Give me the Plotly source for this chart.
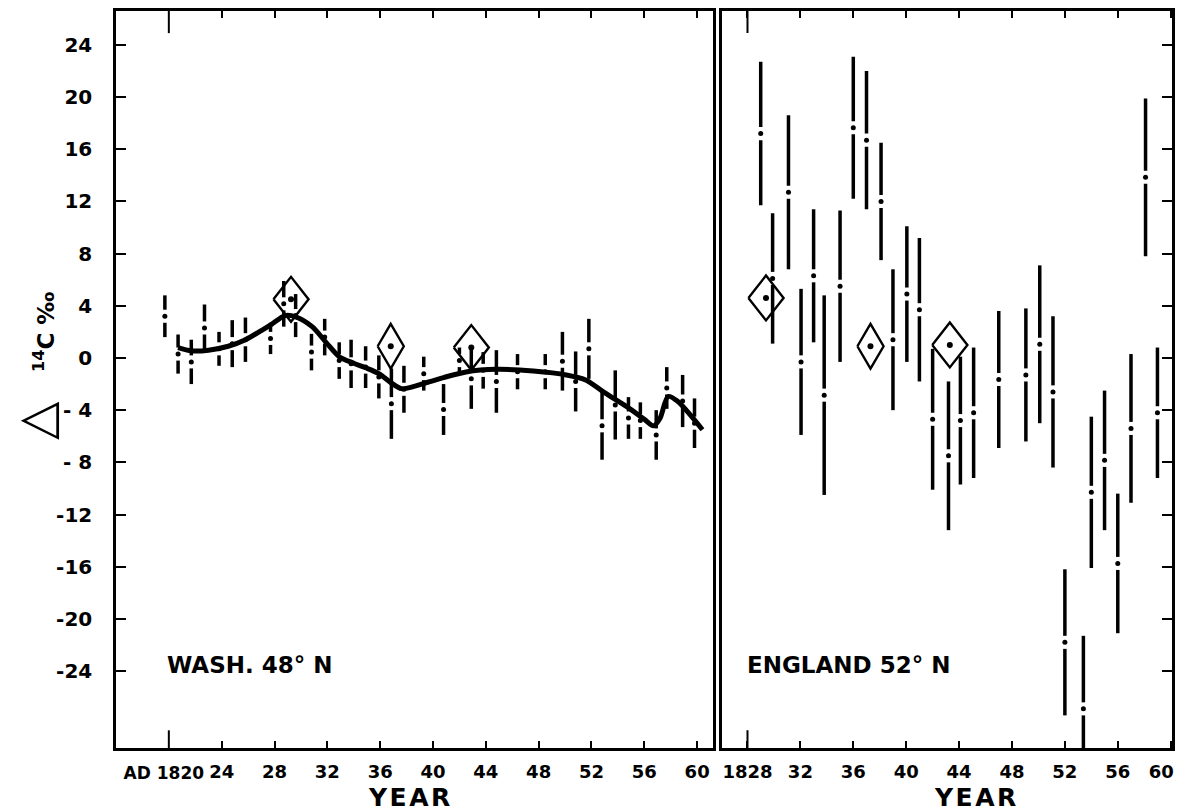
import plotly.graph_objects as go

# ---------------- data ----------------
# Washington 48N: individual measurements (year, delta14C centre, half error)
wash_year = [1819.7, 1820.7, 1821.7, 1822.7, 1823.8, 1824.8, 1825.8, 1827.7, 1828.7, 1829.6,
             1830.8, 1831.8, 1832.9, 1833.8, 1834.9, 1835.9, 1836.85, 1837.8, 1839.3, 1840.8,
             1842.0, 1842.9, 1843.8, 1844.8, 1846.4, 1848.5, 1849.8, 1850.8, 1851.8, 1852.8,
             1853.8, 1854.8, 1855.7, 1856.9, 1857.7, 1858.9, 1859.8]
wash_d14c = [3.2, 0.3, -0.3, 2.3, 0.7, 1.1, 1.4, 1.5, 4.15, 3.25,
             0.45, 1.6, -0.2, -0.45, -0.7, -1.45, -3.5, -2.4, -1.2, -3.95,
             -0.2, -1.6, -0.95, -1.8, -1.05, -1.05, -0.25, -1.8, 0.7, -5.2,
             -3.6, -4.6, -4.8, -5.9, -2.3, -3.3, -5.0]
wash_err = [1.6, 1.5, 1.7, 1.8, 1.3, 1.8, 1.7, 1.2, 1.75, 1.65,
            1.4, 1.4, 1.4, 1.85, 1.6, 1.65, 2.7, 1.8, 1.3, 1.95,
            1.0, 2.3, 1.4, 2.4, 1.35, 1.35, 2.25, 2.3, 2.3, 2.6,
            2.65, 1.6, 1.4, 1.9, 1.6, 2.0, 1.9]

# Washington smooth curve
wash_fit_year = [1820.7, 1821.7, 1823.0, 1824.5, 1825.8, 1827.0, 1827.8, 1828.8, 1829.6, 1830.85,
                 1831.9, 1832.9, 1834.0, 1834.9, 1835.9, 1836.9, 1837.6, 1838.5, 1839.3, 1840.8,
                 1842.5, 1844.8, 1847.6, 1850.1, 1851.6, 1852.9, 1854.7, 1856.0, 1856.7, 1857.2,
                 1857.8, 1858.5, 1860.4]
wash_fit_d14c = [0.8, 0.55, 0.6, 0.9, 1.4, 2.1, 2.6, 3.25, 3.15, 2.4,
                 1.2, 0.1, -0.4, -0.75, -1.2, -1.95, -2.35, -2.2, -1.95, -1.5,
                 -1.07, -0.87, -1.0, -1.3, -1.7, -2.6, -3.75, -4.7, -5.2, -4.6,
                 -2.95, -3.3, -5.5]

# Washington diamonds (year, value, half time-span)
wash_dia_year = [1829.25, 1836.8, 1842.9]
wash_dia_d14c = [4.5, 0.9, 0.8]
wash_dia_span = [1.33, 0.99, 1.33]

# England 52N
eng_year = [1829.0, 1829.9, 1831.1, 1832.05, 1833.0, 1833.8, 1835.0, 1836.0, 1837.0, 1838.1,
            1839.0, 1840.05, 1841.0, 1842.0, 1843.2, 1844.1, 1845.1, 1847.0, 1849.05, 1850.1,
            1851.1, 1852.0, 1853.4, 1854.0, 1855.0, 1856.0, 1857.0, 1858.1, 1859.0]
eng_d14c = [17.2, 6.1, 12.7, -0.3, 6.3, -2.85, 5.5, 17.65, 16.7, 12.0,
            1.4, 4.9, 3.7, -4.7, -7.5, -4.8, -4.2, -1.65, -1.3, 1.05,
            -2.6, -21.8, -26.9, -10.3, -7.85, -15.75, -5.4, 13.85, -4.2]
eng_err = [5.5, 5.0, 5.9, 5.6, 5.1, 7.65, 5.8, 5.45, 5.3, 4.5,
           5.4, 5.2, 5.5, 5.4, 5.7, 4.9, 5.0, 5.25, 5.1, 6.05,
           5.8, 5.6, 5.6, 5.8, 5.35, 5.35, 5.7, 6.05, 5.0]

eng_dia_year = [1829.4, 1837.3, 1843.3]
eng_dia_d14c = [4.6, 0.9, 1.0]
eng_dia_span = [1.33, 0.99, 1.33]

# axes
y_ticks = [-24, -20, -16, -12, -8, -4, 0, 4, 8, 12, 16, 20, 24]
y_ticktext = ["-24", "-20", "-16", "-12", "- 8", "- 4", "0", "4", "8", "12", "16", "20", "24"]
wash_xticks = [1820, 1824, 1828, 1832, 1836, 1840, 1844, 1848, 1852, 1856, 1860]
wash_xtext = ["AD 1820", "24", "28", "32", "36", "40", "44", "48", "52", "56", "60"]
eng_xticks = [1828, 1832, 1836, 1840, 1844, 1848, 1852, 1856, 1860]
eng_xtext = ["1828", "32", "36", "40", "44", "48", "52", "56", "60\u00a0\u00a0\u00a0"]

# ---------------- styling / layout constants ----------------
GAP = 0.5            # gap around the centre dot (per mil)
DIA_HALF_H = 1.72    # diamond half height (per mil)
INK = "black"
FONT = "DejaVu Sans"
W, H = 1199, 812
OFF = 8              # page body offset of the figure
ML, MR, MT, MB = 108, 35, 3, 72
PW = W - ML - MR
PH = H - MT - MB


def px_x(p):
    return (p - OFF - ML) / PW


def px_y(p):
    return 1 - (p - OFF - MT) / PH


def bar_paths(xs, cs, hs):
    X, Y = [], []
    for x, c, h in zip(xs, cs, hs):
        X += [x, x, None, x, x, None]
        Y += [c + h, c + GAP, None, c - GAP, c - h, None]
    return X, Y


def diamond_paths(xs, cs, ws):
    X, Y = [], []
    for x, c, w in zip(xs, cs, ws):
        X += [x - w, x, x + w, x, x - w, None]
        Y += [c, c + DIA_HALF_H, c, c - DIA_HALF_H, c, None]
    return X, Y


fig = go.Figure()

# --- Washington panel ---
bx, by = bar_paths(wash_year, wash_d14c, wash_err)
fig.add_trace(go.Scatter(x=bx, y=by, mode="lines", line=dict(color=INK, width=3.5),
                         xaxis="x", yaxis="y", hoverinfo="skip"))
fig.add_trace(go.Scatter(x=wash_year, y=wash_d14c, mode="markers",
                         marker=dict(color=INK, size=5), xaxis="x", yaxis="y"))
fig.add_trace(go.Scatter(x=wash_fit_year, y=wash_fit_d14c, mode="lines",
                         line=dict(color=INK, width=5, shape="spline", smoothing=0.8),
                         xaxis="x", yaxis="y"))
dx, dy = diamond_paths(wash_dia_year, wash_dia_d14c, wash_dia_span)
fig.add_trace(go.Scatter(x=dx, y=dy, mode="lines", line=dict(color=INK, width=2.4),
                         xaxis="x", yaxis="y"))
fig.add_trace(go.Scatter(x=wash_dia_year, y=wash_dia_d14c, mode="markers",
                         marker=dict(color=INK, size=6), xaxis="x", yaxis="y"))

# --- England panel ---
bx, by = bar_paths(eng_year, eng_d14c, eng_err)
fig.add_trace(go.Scatter(x=bx, y=by, mode="lines", line=dict(color=INK, width=3.5),
                         xaxis="x2", yaxis="y2", hoverinfo="skip"))
fig.add_trace(go.Scatter(x=eng_year, y=eng_d14c, mode="markers",
                         marker=dict(color=INK, size=5), xaxis="x2", yaxis="y2",
                         cliponaxis=True))
dx, dy = diamond_paths(eng_dia_year, eng_dia_d14c, eng_dia_span)
fig.add_trace(go.Scatter(x=dx, y=dy, mode="lines", line=dict(color=INK, width=2.4),
                         xaxis="x2", yaxis="y2"))
fig.add_trace(go.Scatter(x=eng_dia_year, y=eng_dia_d14c, mode="markers",
                         marker=dict(color=INK, size=6), xaxis="x2", yaxis="y2"))

xtickfont = dict(family=FONT, size=18, color=INK, weight="bold")
ytickfont = dict(family=FONT, size=20, color=INK, weight="bold")
common_x = dict(showgrid=False, zeroline=False, showline=True, linecolor=INK, linewidth=2.5,
                ticks="inside", ticklen=7, tickwidth=2, tickcolor=INK, mirror="ticks",
                tickmode="array", tickfont=xtickfont, ticklabelstandoff=6, tickangle=0,
                automargin=False)
common_y = dict(showgrid=False, zeroline=False, showline=True, linecolor=INK, linewidth=2.5,
                ticks="inside", ticklen=10, tickwidth=2, tickcolor=INK, mirror=True,
                tickmode="array", tickvals=y_ticks, ticktext=y_ticktext,
                range=[-29.9, 26.6], domain=[0, 1], tickfont=ytickfont, automargin=False)

fig.update_layout(
    width=W, height=H, autosize=False,
    margin=dict(l=ML, r=MR, t=MT, b=MB, pad=0, autoexpand=False),
    paper_bgcolor="white", plot_bgcolor="white",
    showlegend=False,
    # main Washington axis: all ticks except the first (drawn long below, labelled on overlay)
    xaxis=dict(common_x, domain=[px_x(116), px_x(713)], range=[1816.0, 1861.2],
               tickvals=wash_xticks[1:], ticktext=wash_xtext[1:], anchor="y"),
    xaxis3=dict(common_x, domain=[px_x(116), px_x(713)], range=[1816.0, 1861.2],
                tickvals=wash_xticks[:1], ticktext=wash_xtext[:1], anchor="y",
                overlaying="x", showline=False, ticks="", mirror=False,
                ticklabelstandoff=13, ticklabelshift=-5,
                tickfont=dict(family=FONT, size=17, color=INK, weight="bold")),
    yaxis=dict(common_y, anchor="x", side="left", ticklabelstandoff=17),
    xaxis2=dict(common_x, domain=[px_x(721.7), px_x(1172)], range=[1826.05, 1860.1],
                tickvals=eng_xticks, ticktext=eng_xtext, anchor="y2"),
    yaxis2=dict(common_y, anchor="x2", side="right", showticklabels=False),
)
# invisible trace to activate the overlay axis
fig.add_trace(go.Scatter(x=wash_xticks[:1], y=[0], mode="markers", marker=dict(opacity=0),
                         xaxis="x3", yaxis="y", hoverinfo="skip"))

# longer first tick marks (top and bottom) in each panel
for xr, yr, xv in (("x", "y domain", wash_xticks[0]), ("x2", "y2 domain", eng_xticks[0])):
    fig.add_shape(type="line", xref=xr, yref=yr, x0=xv, x1=xv, y0=0, y1=0.024,
                  line=dict(color=INK, width=2))
    fig.add_shape(type="line", xref=xr, yref=yr, x0=xv, x1=xv, y0=1, y1=1 - 0.03,
                  line=dict(color=INK, width=2))

lab = dict(family=FONT, size=23, color=INK, weight="bold")
fig.add_annotation(text="WASH. 48° N", xref="paper", yref="paper", x=px_x(165), y=px_y(665),
                   xanchor="left", yanchor="middle", showarrow=False, font=lab)
fig.add_annotation(text="ENGLAND 52° N", xref="paper", yref="paper", x=px_x(745), y=px_y(665),
                   xanchor="left", yanchor="middle", showarrow=False, font=lab)
yearfont = dict(family=FONT, size=25, color=INK, weight="bold")
year_txt = "Y\u200aE\u200aA\u200aR"
fig.add_annotation(text=year_txt, xref="paper", yref="paper", x=px_x(409), y=px_y(798),
                   xanchor="center", yanchor="middle", showarrow=False, font=yearfont)
fig.add_annotation(text=year_txt, xref="paper", yref="paper", x=px_x(975), y=px_y(798),
                   xanchor="center", yanchor="middle", showarrow=False, font=yearfont)
# y-axis title
fig.add_annotation(text="△", xref="paper", yref="paper", x=px_x(36), y=px_y(421),
                   xanchor="center", yanchor="middle", showarrow=False, textangle=-90,
                   font=dict(family=FONT, size=50, color=INK))
fig.add_annotation(text="<sup>14</sup>C ‰", xref="paper", yref="paper", x=px_x(44),
                   y=px_y(332), xanchor="center", yanchor="middle", showarrow=False,
                   textangle=-90, font=dict(family=FONT, size=23, color=INK, weight="bold"))

fig.write_html("out.html")
